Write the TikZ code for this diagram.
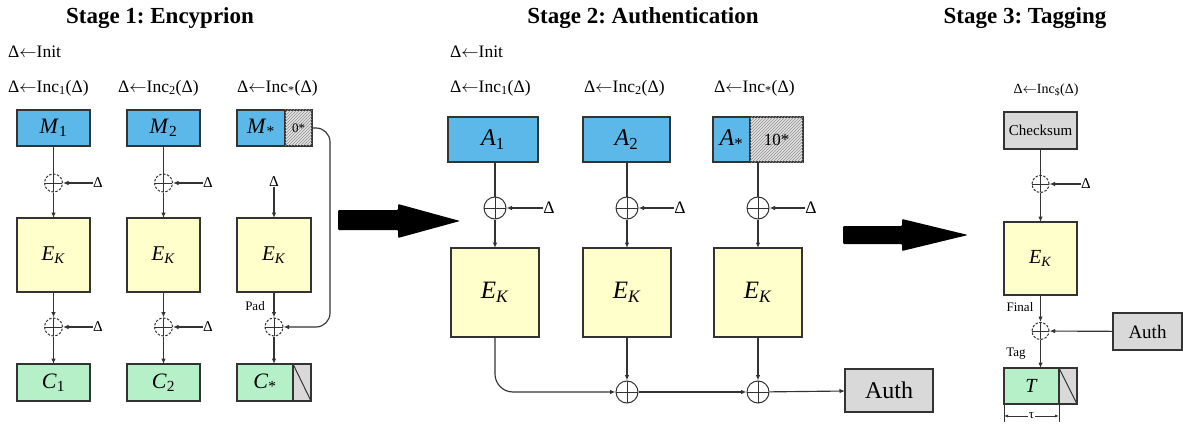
\documentclass[tikz,border=0pt]{standalone}
\usepackage{fontspec}
\setmainfont{Liberation Serif}
\usetikzlibrary{arrows.meta,patterns,calc}
\frenchspacing

\definecolor{msgblue}{HTML}{5CB8E8}
\definecolor{ekyellow}{HTML}{FFFFCC}
\definecolor{ctgreen}{HTML}{B5F0C9}
\definecolor{boxgray}{HTML}{D9D9D9}
\definecolor{linegray}{HTML}{333333}

\newcommand{\la}{\ensuremath{\leftarrow}}

\tikzset{
  blk/.style={draw=linegray, line width=1.2pt, inner sep=0pt, outer sep=0pt},
  msg/.style={blk, fill=msgblue},
  enc/.style={blk, fill=ekyellow},
  ctx/.style={blk, fill=ctgreen},
  gry/.style={blk, fill=boxgray},
  padh/.style={blk, fill=boxgray!80, postaction={pattern=north east lines, pattern color=gray!85}},
  slash/.style={gry, path picture={\draw[linegray, line width=1pt]
      (path picture bounding box.north west) -- (path picture bounding box.south east);}},
  xorc/.style={circle, draw=linegray, line width=1pt, minimum size=#1, inner sep=0pt,
    path picture={\draw[linegray, solid, line width=1pt]
      (path picture bounding box.west) -- (path picture bounding box.east)
      (path picture bounding box.north) -- (path picture bounding box.south);}},
  xord/.style={xorc=#1, dash pattern=on 2.5pt off 1.5pt},
  wire/.style={draw=linegray, line width=1.15pt},
  conn/.style={wire, -{Latex[length=5.5pt,width=4.5pt]}},
  title/.style={font=\bfseries\fontsize{23}{26}\selectfont},
  lbl/.style={font=\fontsize{17.5}{20}\selectfont, inner sep=0pt},
  small/.style={font=\fontsize{13}{15}\selectfont, inner sep=0pt},
  bigarrow/.style={fill=black, rounded corners=1pt},
}

\begin{document}
\begin{tikzpicture}[x=1pt,y=-1pt]
\useasboundingbox (0,0) rectangle (1183,425);

% ---------------- Stage 1: encryption ----------------
\node[title] (t1) at (160,18) {Stage 1: Encyprion};
\node[lbl, anchor=west] (init1) at (8,52) {Δ\la Init};
\node[lbl, anchor=west] (inc11) at (8,88) {Δ\la Inc\textsubscript{1}(Δ)};
\node[lbl, anchor=west] (inc12) at (118,88) {Δ\la Inc\textsubscript{2}(Δ)};
\node[lbl, anchor=west] (inc13) at (237,88) {Δ\la Inc\textsubscript{*}(Δ)};

\node[msg, minimum width=73, minimum height=36, font=\fontsize{22}{24}\selectfont] (m1) at (53.5,128) {\textit{M}\textsubscript{1}};
\node[msg, minimum width=73, minimum height=36, font=\fontsize{22}{24}\selectfont] (m2) at (163.5,128) {\textit{M}\textsubscript{2}};
\node[msg, minimum width=48, minimum height=36, font=\fontsize{22}{24}\selectfont] (m3) at (261,128) {\textit{M}\textsubscript{*}};
\node[padh, minimum width=27, minimum height=36, font=\fontsize{13}{15}\selectfont] (m3p) at (298.5,128) {0*};

\node[xord=18] (x11) at (53.5,183) {};
\node[xord=18] (x12) at (163.5,183) {};
\node[lbl, font=\fontsize{15}{17}\selectfont] (d11) at (98,183) {Δ};
\node[lbl, font=\fontsize{15}{17}\selectfont] (d12) at (208,183) {Δ};
\node[lbl, font=\fontsize{15}{17}\selectfont] (d13) at (274,182) {Δ};

\node[enc, minimum width=73, minimum height=74, font=\fontsize{21}{23}\selectfont] (e11) at (53.5,255) {\textit{E}\textsubscript{\textit{K}}};
\node[enc, minimum width=73, minimum height=74, font=\fontsize{21}{23}\selectfont] (e12) at (163.5,255) {\textit{E}\textsubscript{\textit{K}}};
\node[enc, minimum width=74, minimum height=74, font=\fontsize{21}{23}\selectfont] (e13) at (274,255) {\textit{E}\textsubscript{\textit{K}}};

\node[xord=18] (y11) at (53.5,327) {};
\node[xord=18] (y12) at (163.5,327) {};
\node[xord=18] (y13) at (274,327) {};
\node[lbl, font=\fontsize{15}{17}\selectfont] (f11) at (98,327) {Δ};
\node[lbl, font=\fontsize{15}{17}\selectfont] (f12) at (208,327) {Δ};
\node[small] (pad1) at (255,306) {Pad};

\node[ctx, minimum width=73, minimum height=37, font=\fontsize{22}{24}\selectfont] (c1) at (53.5,382.5) {\textit{C}\textsubscript{1}};
\node[ctx, minimum width=73, minimum height=37, font=\fontsize{22}{24}\selectfont] (c2) at (163.5,382.5) {\textit{C}\textsubscript{2}};
\node[ctx, minimum width=56, minimum height=37, font=\fontsize{22}{24}\selectfont] (c3) at (265,382.5) {\textit{C}\textsubscript{*}};
\node[slash, minimum width=18, minimum height=37] (c3p) at (302,382.5) {};

\coordinate (padturn) at (330,327);

\draw[wire] (m1) -- (x11);
\draw[conn] (x11) -- (e11);
\draw[wire] (m2) -- (x12);
\draw[conn] (x12) -- (e12);
\draw[conn] (d11) -- (x11);
\draw[conn] (d12) -- (x12);
\draw[conn] (d13) -- (e13);
\draw[conn] (e11) -- (y11);
\draw[conn] (y11) -- (c1);
\draw[conn] (e12) -- (y12);
\draw[conn] (y12) -- (c2);
\draw[conn] (e13) -- (y13);
\draw[conn] (y13) -- (c3.north -| y13);
\draw[conn] (f11) -- (y11);
\draw[conn] (f12) -- (y12);
\draw[conn, rounded corners=14pt] (m3p.east) -| (padturn) -- (y13.east);

% ---------------- transition arrows ----------------
\fill[bigarrow] (338,210) -- (398,210) -- (398,204) -- (460,221) -- (398,238) -- (398,230) -- (338,230) -- cycle;
\fill[bigarrow] (843,226) -- (902,226) -- (902,219) -- (968,235) -- (902,251) -- (902,244) -- (843,244) -- cycle;

% ---------------- Stage 2: authentication ----------------
\node[title] (t2) at (643,18) {Stage 2: Authentication};
\node[lbl, anchor=west] (init2) at (450,52) {Δ\la Init};
\node[lbl, anchor=west] (inc21) at (450,88) {Δ\la Inc\textsubscript{1}(Δ)};
\node[lbl, anchor=west] (inc22) at (584,88) {Δ\la Inc\textsubscript{2}(Δ)};
\node[lbl, anchor=west] (inc23) at (714,88) {Δ\la Inc\textsubscript{*}(Δ)};

\node[msg, minimum width=90, minimum height=45, font=\fontsize{24}{26}\selectfont] (a1) at (493,139.5) {\textit{A}\textsubscript{1}};
\node[msg, minimum width=87, minimum height=45, font=\fontsize{24}{26}\selectfont] (a2) at (626.5,139.5) {\textit{A}\textsubscript{2}};
\node[msg, minimum width=37, minimum height=45, font=\fontsize{24}{26}\selectfont] (a3) at (731.5,139.5) {\textit{A}\textsubscript{*}};
\node[padh, minimum width=53, minimum height=45, font=\fontsize{17}{19}\selectfont] (a3p) at (776.5,139.5) {10*};

\node[xorc=22] (x21) at (495,208) {};
\node[xorc=22] (x22) at (627,208) {};
\node[xorc=22] (x23) at (758,208) {};
\node[lbl] (d21) at (549,208) {Δ};
\node[lbl] (d22) at (680,208) {Δ};
\node[lbl] (d23) at (811,208) {Δ};

\node[enc, minimum width=88, minimum height=89, font=\fontsize{25}{27}\selectfont] (e21) at (495,292.5) {\textit{E}\textsubscript{\textit{K}}};
\node[enc, minimum width=88, minimum height=89, font=\fontsize{25}{27}\selectfont] (e22) at (627,292.5) {\textit{E}\textsubscript{\textit{K}}};
\node[enc, minimum width=88, minimum height=89, font=\fontsize{25}{27}\selectfont] (e23) at (758,292.5) {\textit{E}\textsubscript{\textit{K}}};

\node[xorc=22] (s21) at (627,392) {};
\node[xorc=22] (s22) at (758,392) {};
\node[gry, minimum width=88, minimum height=43, font=\fontsize{24}{26}\selectfont] (auth2) at (889,390.5) {Auth};

\draw[wire] (x21 |- a1.south) -- (x21);
\draw[wire] (x22 |- a2.south) -- (x22);
\draw[wire] (x23 |- a3p.south) -- (x23);
\draw[conn] (x21) -- (e21);
\draw[conn] (x22) -- (e22);
\draw[conn] (x23) -- (e23);
\draw[conn] (d21) -- (x21);
\draw[conn] (d22) -- (x22);
\draw[conn] (d23) -- (x23);
\draw[conn, rounded corners=18pt] (e21.south) |- (s21.west);
\draw[conn] (e22) -- (s21);
\draw[conn] (e23) -- (s22);
\draw[conn] (s21) -- (s22);
\draw[conn] (s22) -- (auth2);

% ---------------- Stage 3: tagging ----------------
\node[title] (t3) at (1025,18) {Stage 3: Tagging};
\node[small, font=\fontsize{14}{16}\selectfont] (inc3) at (1046,90) {Δ\la Inc\textsubscript{\$}(Δ)};
\node[gry, minimum width=73, minimum height=37, font=\fontsize{15}{17}\selectfont] (chk) at (1040.5,130.5) {Checksum};
\node[xord=17] (x31) at (1040.5,184) {};
\node[lbl, font=\fontsize{15}{17}\selectfont] (d31) at (1086,184) {Δ};
\node[enc, minimum width=73, minimum height=73, font=\fontsize{20}{22}\selectfont] (e31) at (1040.5,258.5) {\textit{E}\textsubscript{\textit{K}}};
\node[small] (fin3) at (1020,307) {Final};
\node[xord=17] (x32) at (1040.5,331) {};
\node[gry, minimum width=69, minimum height=37, font=\fontsize{19}{21}\selectfont] (auth3) at (1147.5,331.5) {Auth};
\node[small] (tag3) at (1016,354) {Tag};
\node[ctx, minimum width=55, minimum height=36, font=\fontsize{20}{22}\selectfont] (tt) at (1031.5,386) {\textit{T}};
\node[slash, minimum width=18, minimum height=36] (ttp) at (1068,386) {};

\coordinate (tl) at (1004,416);
\coordinate (tr) at (1059,416);
\draw[wire, line width=0.8pt] (tt.south west) -- ++(0,18);
\draw[wire, line width=0.8pt] (tt.south east) -- ++(0,18);
\draw[wire, line width=0.8pt, {Latex[length=4pt,width=3pt]}-{Latex[length=4pt,width=3pt]}] (tl) -- (tr);
\node[small, fill=white, inner sep=1pt] (tau) at (1031.5,416) {τ};

\draw[wire] (chk) -- (x31);
\draw[conn] (x31) -- (e31);
\draw[conn] (d31) -- (x31);
\draw[conn] (e31) -- (x32);
\draw[conn] (x32) -- (tt.north -| x32);
\draw[conn] (auth3) -- (x32);
\end{tikzpicture}
\end{document}
